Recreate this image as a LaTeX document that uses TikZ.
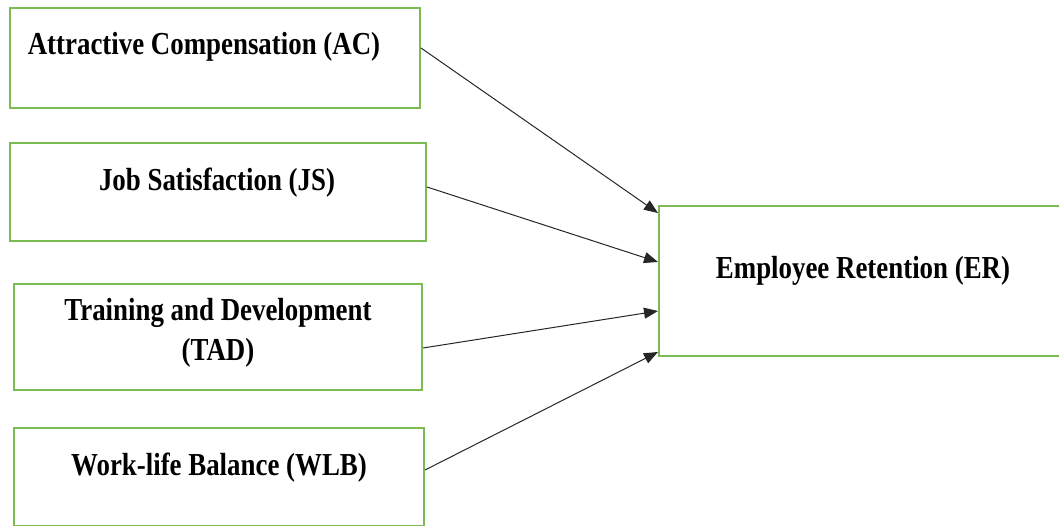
\documentclass[tikz,border=0pt]{standalone}
\usepackage{fontspec}
\setmainfont{Liberation Serif}[FakeStretch=0.84]
\usetikzlibrary{positioning,arrows.meta}
\definecolor{boxgreen}{RGB}{126,186,84}

\begin{document}
\begin{tikzpicture}[x=1pt,y=-1pt]
        \tikzset{factor/.style={draw=boxgreen, line width=2pt, inner sep=0pt, fill=white},
                 lbl/.style={anchor=base, inner sep=0pt, align=center,
                             font=\fontsize{32}{40}\selectfont\bfseries},
                 link/.style={-{Triangle[length=14pt,width=11pt]}, line width=1pt, draw=black!85}}
        \useasboundingbox (0,0) rectangle (1059,526);
        % boxes
        \node [factor, minimum width=410pt, minimum height=100pt] (ac) at (215,58) {};
        \node [factor, minimum width=416pt, minimum height=98pt] (js) at (218,192) {};
        \node [factor, minimum width=408pt, minimum height=106pt] (tad) at (218,337) {};
        \node [factor, minimum width=410pt, minimum height=98pt] (wlb) at (219,477) {};
        \node [factor, minimum width=404pt, minimum height=150pt] (er) at (861,281) {};
        % texts
        \node [lbl] (ac-t) at (204,55) {Attractive Compensation (AC)};
        \node [lbl] (js-t) at (217,191) {Job Satisfaction (JS)};
        \node [lbl] (tad-t) at (218,360) {Training and Development\\(TAD)};
        \node [lbl] (wlb-t) at (219,475) {Work-life Balance (WLB)};
        \node [lbl] (er-t) at (863,279) {Employee Retention (ER)};
        % links
        \draw [link] ([yshift=10pt]ac.east) -- ([yshift=68pt]er.west);
        \draw [link] ([yshift=5pt]js.east) -- ([yshift=19pt]er.west);
        \draw [link] ([yshift=-11pt]tad.east) -- ([yshift=-30pt]er.west);
        \draw [link] ([yshift=7pt]wlb.east) -- ([yshift=-71pt]er.west);
\end{tikzpicture}
\end{document}
